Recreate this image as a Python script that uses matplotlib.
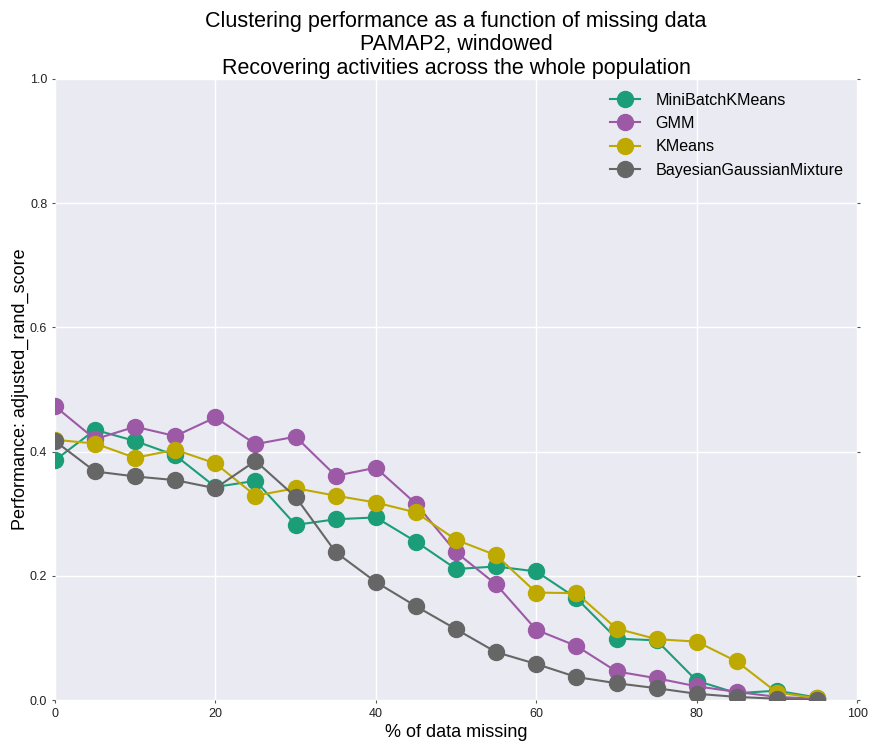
import matplotlib
matplotlib.use("Agg")
import matplotlib.pyplot as plt

plt.rcParams['font.family'] = ['Liberation Sans', 'DejaVu Sans']

missing_pct = [0, 5, 10, 15, 20, 25, 30, 35, 40, 45, 50, 55, 60, 65, 70, 75, 80, 85, 90, 95]

minibatch_kmeans = [0.386, 0.435, 0.417, 0.394, 0.343, 0.353, 0.282, 0.291, 0.294, 0.255,
                    0.211, 0.215, 0.207, 0.164, 0.099, 0.096, 0.031, 0.011, 0.015, 0.004]
gmm = [0.473, 0.420, 0.440, 0.425, 0.455, 0.412, 0.424, 0.361, 0.374, 0.316,
       0.238, 0.186, 0.113, 0.087, 0.046, 0.035, 0.022, 0.013, 0.005, 0.002]
kmeans = [0.419, 0.413, 0.390, 0.403, 0.381, 0.329, 0.341, 0.329, 0.318, 0.302,
          0.258, 0.233, 0.173, 0.172, 0.115, 0.098, 0.094, 0.062, 0.012, 0.003]
bayesian_gmm = [0.417, 0.368, 0.360, 0.354, 0.341, 0.385, 0.327, 0.238, 0.190, 0.151,
                0.114, 0.077, 0.058, 0.037, 0.027, 0.019, 0.010, 0.005, 0.002, 0.000]

series = [
    ("MiniBatchKMeans", minibatch_kmeans, "#1b9e77"),
    ("GMM", gmm, "#9c5aa6"),
    ("KMeans", kmeans, "#bea900"),
    ("BayesianGaussianMixture", bayesian_gmm, "#666666"),
]

fig = plt.figure(figsize=(8.72, 7.45), dpi=100)
ax = fig.add_axes([0.063, 0.0604, 0.920, 0.8336])
ax.set_facecolor("#EAEAF2")
for s in ax.spines.values():
    s.set_visible(False)
ax.grid(True, color="white", linewidth=1.0)
ax.set_axisbelow(True)

for name, vals, col in series:
    ax.plot(missing_pct, vals, color=col, marker="o", markersize=11.5,
            linewidth=1.5, label=name)

ax.set_xlim(0, 100)
ax.set_ylim(0, 1.0)
ax.set_xticks([0, 20, 40, 60, 80, 100])
ax.set_yticks([0.0, 0.2, 0.4, 0.6, 0.8, 1.0])
ax.tick_params(axis="both", labelsize=9, length=2, width=0.8, color="#555555",
               direction="out", right=True, top=False, labelcolor="#222222")
ax.set_xlabel("% of data missing", fontsize=13, labelpad=3)
ax.set_ylabel("Performance: adjusted_rand_score", fontsize=13, labelpad=1)
ax.set_title("Clustering performance as a function of missing data\n"
             "PAMAP2, windowed\nRecovering activities across the whole population",
             fontsize=15.5, linespacing=1.17, pad=1)

ax.legend(loc="upper right", frameon=False, fontsize=11.6, numpoints=1,
          handlelength=1.85, handletextpad=0.95, borderaxespad=0.45,
          labelspacing=0.52)

fig.savefig("out.png", dpi=100)
